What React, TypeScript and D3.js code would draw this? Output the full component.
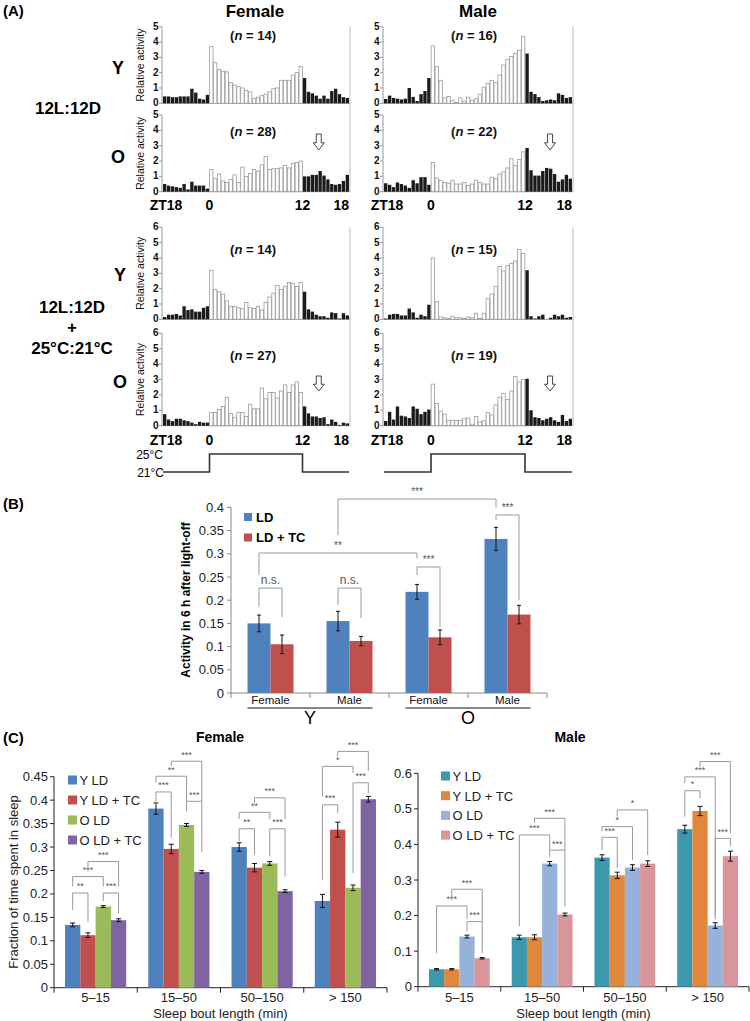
import React from "react";
import * as d3 from "d3";

const FONT = '"Liberation Sans", Arial, Helvetica, sans-serif';

// ---------- Panel A: relative activity, 48 half-hour bins from ZT18 to ZT18 ----------
const femaleY_LD = [0.45,0.45,0.4,0.4,0.45,0.45,0.45,0.95,0.7,0.3,0.25,0.55,
  3.7,2.65,2.2,2.1,2.05,1.35,1.2,1.1,1.0,0.85,0.75,0.3,0.4,0.5,0.6,0.75,0.95,1.0,1.5,1.5,1.5,1.85,2.0,2.4,
  1.65,0.75,0.65,0.5,0.3,0.5,0.3,0.8,0.95,0.6,0.4,0.35];
const femaleO_LD = [0.5,0.4,0.35,0.3,0.25,0.5,0.15,0.65,0.4,0.4,0.4,0.2,
  1.45,0.85,1.15,0.7,0.6,0.8,1.1,0.6,1.6,1.0,1.2,1.45,1.35,1.75,2.3,1.45,1.5,1.5,1.55,1.7,1.55,1.85,1.9,2.0,
  1.0,1.0,1.1,1.1,1.35,1.05,0.8,0.5,0.45,0.5,0.7,1.1];
const maleY_LD = [0.28,0.5,0.35,0.3,0.25,0.3,1.0,0.42,0.15,0.6,0.8,1.65,
  3.75,2.4,1.5,0.35,0.45,0.2,0.05,0.35,0.15,0.4,0.2,0.3,0.6,1.05,1.3,1.5,1.35,1.85,2.5,2.85,3.05,3.25,3.45,4.35,
  3.25,0.75,0.6,0.4,0.15,0.2,0.25,0.2,0.65,0.55,0.35,0.4];
const maleO_LD = [0.55,0.45,0.3,0.6,0.5,0.4,0.25,0.75,0.55,0.95,0.95,0.45,
  1.9,0.9,0.75,0.6,0.55,0.75,0.5,0.5,0.6,0.4,0.5,0.75,0.6,0.5,0.5,0.95,0.85,1.15,1.3,1.55,2.15,1.7,2.1,2.6,
  2.85,1.4,1.05,1.05,1.35,1.55,1.5,1.15,0.65,0.8,1.1,0.85];
const femaleY_TC = [0.15,0.3,0.3,0.35,0.25,0.85,0.6,0.65,0.5,0.5,0.75,0.85,
  3.2,1.95,1.8,1.65,1.2,0.85,0.85,0.75,0.7,1.1,0.75,0.7,0.85,0.6,1.1,1.45,1.7,2.2,1.95,2.15,2.4,2.35,2.15,2.4,
  1.8,0.65,0.5,0.3,0.2,0.2,0.1,0.45,0.4,0.05,0.4,0.25];
const femaleO_TC = [0.75,0.4,0.3,0.45,0.45,0.35,0.3,0.2,0.1,0.25,0.2,0.2,
  0.85,0.85,1.05,1.25,1.85,0.8,0.55,0.85,0.85,0.6,1.4,1.1,1.1,2.45,1.75,2.15,2.15,1.8,2.25,2.65,2.15,2.65,2.85,2.15,
  1.25,0.8,0.6,0.6,0.5,0.55,0.1,0.4,0.25,0.05,0.2,0.15];
const maleY_TC = [0.05,0.3,0.35,0.35,0.25,0.25,0.7,0.45,0.1,0.3,0.2,0.95,
  4.0,1.15,0.15,0.1,0.05,0.2,0.1,0.1,0.05,0.15,0.1,0.4,0.05,0.4,1.35,1.65,2.15,3.45,3.15,3.5,3.65,3.8,4.55,4.3,
  3.2,0.2,0.05,0.2,0.3,0.0,0.1,0.3,0.2,0.3,0.1,0.15];
const maleO_TC = [0.3,0.9,0.4,1.25,0.65,0.6,0.5,1.25,1.1,0.75,0.9,1.05,
  2.7,1.45,0.95,0.75,0.35,0.35,0.35,0.35,0.45,0.5,0.1,0.6,0.25,0.35,0.85,0.7,1.35,1.85,2.1,1.7,2.25,3.2,2.85,3.0,
  3.05,1.0,0.55,0.5,0.35,0.45,0.55,0.35,0.25,0.7,0.3,0.45];

const nFemale = [14, 28, 14, 27];
const nMale = [16, 22, 15, 19];
const ztTicks = ["ZT18", "0", "12", "18"];
const tempZT = [-6, 0, 0, 12, 12, 18];
const tempC = [21, 21, 25, 25, 21, 21];
const arrowZTFemale = 14.1;
const arrowZTMale = 15.2;

// ---------- Panel B ----------
const bSex = ["Female", "Male", "Female", "Male"];
const bAge = ["Y", "O"];
const bLD = [0.150, 0.155, 0.218, 0.332];
const bLDerr = [0.018, 0.021, 0.016, 0.025];
const bTC = [0.105, 0.112, 0.120, 0.169];
const bTCerr = [0.020, 0.010, 0.016, 0.020];
// [catA, seriesA, catB, seriesB, level, endA, endB, label]
const bSig: [number, number, number, number, number, number, number, string][] = [
  [0, 0, 0, 1, 0.226, 0.185, 0.164, "n.s."],
  [1, 0, 1, 1, 0.226, 0.19, 0.162, "n.s."],
  [2, 0, 2, 1, 0.2716, 0.254, 0.142, "***"],
  [3, 0, 3, 1, 0.3836, 0.373, 0.2, "***"],
  [0, 0, 2, 0, 0.3017, 0.254, 0.29, "**"],
  [1, 0, 3, 0, 0.418, 0.34, 0.40, "***"],
];

// ---------- Panel C ----------
const cCategories = ["5\u201315", "15\u201350", "50\u2013150", "> 150"];
const cSeries = ["Y LD", "Y LD + TC", "O LD", "O LD + TC"];
const femaleC_YLD = [0.134, 0.382, 0.300, 0.185];
const femaleC_YTC = [0.112, 0.296, 0.256, 0.337];
const femaleC_OLD = [0.173, 0.347, 0.265, 0.213];
const femaleC_OTC = [0.144, 0.247, 0.206, 0.402];
const femaleC_YLDerr = [0.004, 0.012, 0.009, 0.014];
const femaleC_YTCerr = [0.005, 0.010, 0.009, 0.016];
const femaleC_OLDerr = [0.002, 0.003, 0.004, 0.006];
const femaleC_OTCerr = [0.003, 0.003, 0.003, 0.006];
const maleC_YLD = [0.049, 0.139, 0.363, 0.443];
const maleC_YTC = [0.049, 0.139, 0.313, 0.494];
const maleC_OLD = [0.141, 0.346, 0.335, 0.172];
const maleC_OTC = [0.080, 0.203, 0.346, 0.367];
const maleC_YLDerr = [0.002, 0.006, 0.008, 0.011];
const maleC_YTCerr = [0.002, 0.007, 0.009, 0.013];
const maleC_OLDerr = [0.004, 0.006, 0.008, 0.008];
const maleC_OTCerr = [0.002, 0.004, 0.008, 0.014];
// [category, barA, barB, level, endA, endB, label]
type Sig = [number, number, number, number, number, number, string];
const femaleSig: Sig[] = [
  [0, 0, 1, 0.202, 0.166, 0.141, "**"],
  [0, 0, 2, 0.237, 0.216, 0.216, "***"],
  [0, 1, 3, 0.269, 0.248, 0.216, "***"],
  [0, 2, 3, 0.202, 0.185, 0.159, "***"],
  [1, 0, 1, 0.4175, 0.390, 0.32, "***"],
  [1, 0, 2, 0.451, 0.437, 0.398, "**"],
  [1, 1, 3, 0.483, 0.472, 0.398, "***"],
  [1, 2, 3, 0.3976, 0.376, 0.29, "***"],
  [2, 0, 1, 0.339, 0.312, 0.284, "**"],
  [2, 0, 2, 0.374, 0.36, 0.359, "**"],
  [2, 1, 3, 0.405, 0.394, 0.359, "***"],
  [2, 2, 3, 0.339, 0.280, 0.237, "***"],
  [3, 0, 1, 0.390, 0.230, 0.372, "***"],
  [3, 0, 2, 0.472, 0.408, 0.458, "*"],
  [3, 1, 3, 0.504, 0.494, 0.462, "***"],
  [3, 2, 3, 0.437, 0.244, 0.415, "***"],
];
const maleSig: Sig[] = [
  [0, 0, 2, 0.227, 0.094, 0.19, "***"],
  [0, 1, 3, 0.274, 0.244, 0.183, "***"],
  [0, 2, 3, 0.183, 0.156, 0.094, "***"],
  [1, 0, 2, 0.4266, 0.17, 0.384, "***"],
  [1, 1, 3, 0.4735, 0.46, 0.384, "***"],
  [1, 2, 3, 0.384, 0.365, 0.225, "***"],
  [2, 0, 1, 0.42, 0.384, 0.333, "***"],
  [2, 0, 2, 0.45, 0.436, 0.356, "*"],
  [2, 1, 3, 0.497, 0.478, 0.37, "*"],
  [3, 0, 1, 0.551, 0.478, 0.53, "*"],
  [3, 0, 2, 0.59, 0.572, 0.20, "***"],
  [3, 1, 3, 0.633, 0.619, 0.431, "***"],
  [3, 2, 3, 0.417, 0.19, 0.395, "***"],
];

// ================= components =================
const A_X = { female: [163, 349], male: [384, 572] };
const A_ROWS = [
  { bottom: 103.3, top: 26.7, max: 5, nY: 40 },
  { bottom: 191.7, top: 115, max: 5, nY: 136 },
  { bottom: 319.3, top: 227.3, max: 6, nY: 254 },
  { bottom: 425.7, top: 333.3, max: 6, nY: 360 },
];

function ActivityPanel({ values, left, right, row, yLabel, n }: any) {
  const r = A_ROWS[row];
  const x = d3.scaleBand<number>().domain(d3.range(values.length)).range([left, right]).paddingInner(0.14);
  const y = d3.scaleLinear().domain([0, r.max]).range([r.bottom, r.top]);
  const ticks = d3.range(0, r.max + 1);
  return (
    <g>
      <line x1={left - 1} x2={left - 1} y1={r.bottom} y2={r.top} stroke="#999" />
      {ticks.map((t) => (
        <g key={t}>
          <line x1={left - 4} x2={left - 1} y1={y(t)} y2={y(t)} stroke="#999" />
          <text x={left - 4.5} y={y(t) + 3} textAnchor="end" fontSize={10} fontWeight="bold" fill="#111">{t}</text>
        </g>
      ))}
      <line x1={left - 1} x2={right + 1} y1={r.bottom} y2={r.bottom} stroke="#999" />
      {values.map((v: number, i: number) => {
        const light = i >= 12 && i < 36;
        return (
          <rect key={i} x={x(i)} y={y(v)} width={x.bandwidth()} height={Math.max(0, r.bottom - y(v))}
            fill={light ? "#fff" : "#1b1b1b"} stroke={light ? "#9a9a9a" : "none"} strokeWidth={0.8} />
        );
      })}
      {yLabel && (
        <text transform={`translate(${left - 19},${(r.bottom + r.top) / 2}) rotate(-90)`} textAnchor="middle" fontSize={10.5} fill="#111">
          Relative activity
        </text>
      )}
      <text x={left + 90} y={r.nY} textAnchor="middle" fontSize={13} fontWeight="bold" fill="#111">
        (<tspan fontStyle="italic">n</tspan> = {n})
      </text>
    </g>
  );
}

function Arrow({ x, y1, y2 }: any) {
  const hy = y1 + (y2 - y1) * 0.55;
  const d = `M${x - 2.5},${y1} L${x + 2.5},${y1} L${x + 2.5},${hy} L${x + 5.5},${hy} L${x},${y2} L${x - 5.5},${hy} L${x - 2.5},${hy} Z`;
  return <path d={d} fill="#fff" stroke="#444" strokeWidth={1} />;
}

function PanelA() {
  const sets = [
    { sex: "female", data: [femaleY_LD, femaleO_LD, femaleY_TC, femaleO_TC], n: nFemale },
    { sex: "male", data: [maleY_LD, maleO_LD, maleY_TC, maleO_TC], n: nMale },
  ];
  const tempY = d3.scaleLinear().domain([21, 25]).range([472, 454]);
  return (
    <g>
      <text x={3} y={16} fontSize={15} fontWeight="bold">(A)</text>
      <text x={255} y={17} textAnchor="middle" fontSize={17} fontWeight="bold">Female</text>
      <text x={478} y={17} textAnchor="middle" fontSize={17} fontWeight="bold">Male</text>
      <text x={118} y={74} textAnchor="middle" fontSize={18} fontWeight="bold">Y</text>
      <text x={118} y={163} textAnchor="middle" fontSize={18} fontWeight="bold">O</text>
      <text x={68} y={114} textAnchor="middle" fontSize={17} fontWeight="bold">12L:12D</text>
      <text x={120} y={281} textAnchor="middle" fontSize={18} fontWeight="bold">Y</text>
      <text x={120} y={388} textAnchor="middle" fontSize={18} fontWeight="bold">O</text>
      <text x={72} y={313} textAnchor="middle" fontSize={17} fontWeight="bold">12L:12D</text>
      <text x={72} y={333} textAnchor="middle" fontSize={17} fontWeight="bold">+</text>
      <text x={72} y={354} textAnchor="middle" fontSize={17} fontWeight="bold">25°C:21°C</text>
      {sets.map((s) => {
        const [l, rr] = (A_X as any)[s.sex];
        const zt = d3.scaleLinear().domain([-6, 18]).range([l, rr]);
        const arrowX = zt(s.sex === "female" ? arrowZTFemale : arrowZTMale);
        const line = d3.line<number>().x((_, i) => zt(tempZT[i])).y((d) => tempY(d));
        return (
          <g key={s.sex}>
            {s.data.map((vals, row) => (
              <ActivityPanel key={row} values={vals} left={l} right={rr} row={row} yLabel={s.sex === "female"} n={s.n[row]} />
            ))}
            <line x1={rr + 1} x2={rr + 1} y1={26.7} y2={191.7} stroke="#bbb" />
            <line x1={rr + 1} x2={rr + 1} y1={227.3} y2={425.7} stroke="#bbb" />
            {[209.5, 444.5].map((by) => (
              <g key={by} fontSize={14} fontWeight="bold">
                <text x={zt(-6) + 3} y={by} textAnchor="middle">{ztTicks[0]}</text>
                <text x={zt(0)} y={by} textAnchor="middle">{ztTicks[1]}</text>
                <text x={zt(12)} y={by} textAnchor="middle">{ztTicks[2]}</text>
                <text x={rr} y={by} textAnchor="end">{ztTicks[3]}</text>
              </g>
            ))}
            <Arrow x={arrowX} y1={134} y2={150} />
            <Arrow x={arrowX} y1={376} y2={391} />
            <path d={line(tempC) || ""} fill="none" stroke="#333" strokeWidth={1.6} />
          </g>
        );
      })}
      <text x={163} y={459} textAnchor="end" fontSize={12}>25°C</text>
      <text x={164} y={476.5} textAnchor="end" fontSize={12}>21°C</text>
    </g>
  );
}

function PanelB() {
  const left = 231, right = 547, bottom = 693, top = 507.4;
  const x = d3.scaleBand<number>().domain(d3.range(4)).range([left, right]);
  const y = d3.scaleLinear().domain([0, 0.4]).range([bottom, top]);
  const bw = 23;
  const cx = (c: number, s: number) => (x(c) as number) + x.bandwidth() / 2 + (s === 0 ? -bw / 2 : bw / 2);
  const series = [
    { v: bLD, e: bLDerr, color: "#4F81BD", name: "LD" },
    { v: bTC, e: bTCerr, color: "#C0504D", name: "LD + TC" },
  ];
  const ticks = d3.range(0, 0.4001, 0.05);
  return (
    <g>
      <text x={3} y={509} fontSize={15} fontWeight="bold">(B)</text>
      <line x1={left} x2={left} y1={bottom} y2={top} stroke="#888" />
      {ticks.map((t) => (
        <g key={t}>
          <line x1={left - 4} x2={left} y1={y(t)} y2={y(t)} stroke="#888" />
          <text x={left - 7} y={y(t) + 4.5} textAnchor="end" fontSize={13} fill="#222">{String(+t.toFixed(2))}</text>
        </g>
      ))}
      <line x1={left} x2={right} y1={bottom} y2={bottom} stroke="#888" />
      {d3.range(5).map((i) => {
        const xx = left + i * x.step();
        return <line key={i} x1={xx} x2={xx} y1={bottom} y2={bottom + 5} stroke="#888" />;
      })}
      {series.map((s, si) =>
        s.v.map((v, c) => {
          const c0 = cx(c, si);
          return (
            <g key={`${si}-${c}`}>
              <rect x={c0 - bw / 2} y={y(v)} width={bw} height={bottom - y(v)} fill={s.color} />
              <line x1={c0} x2={c0} y1={y(v - s.e[c])} y2={y(v + s.e[c])} stroke="#111" />
              <line x1={c0 - 2} x2={c0 + 2} y1={y(v - s.e[c])} y2={y(v - s.e[c])} stroke="#111" />
              <line x1={c0 - 2} x2={c0 + 2} y1={y(v + s.e[c])} y2={y(v + s.e[c])} stroke="#111" />
            </g>
          );
        })
      )}
      {bSex.map((s, c) => (
        <text key={c} x={(x(c) as number) + x.bandwidth() / 2} y={704} textAnchor="middle" fontSize={11.5} fill="#111">{s}</text>
      ))}
      {bAge.map((a, g) => {
        const x1 = cx(2 * g, 0) - bw / 2, x2 = cx(2 * g + 1, 1) + bw / 2;
        return (
          <g key={a}>
            <line x1={x1} x2={x2} y1={708} y2={708} stroke="#111" strokeWidth={1.2} />
            <text x={(x1 + x2) / 2} y={724} textAnchor="middle" fontSize={18}>{a}</text>
          </g>
        );
      })}
      {bSig.map((s, i) => {
        const xa = cx(s[0], s[1]), xb = cx(s[2], s[3]);
        const ly = y(s[4]);
        return (
          <g key={i}>
            <path d={`M${xa},${y(s[5])} L${xa},${ly} L${xb},${ly} L${xb},${y(s[6])}`} fill="none" stroke="#999" />
            <text x={(xa + xb) / 2} y={ly - 4} textAnchor="middle" fontSize={s[7] === "n.s." ? 12 : 10} fill="#555">{s[7]}</text>
          </g>
        );
      })}
      {series.map((s, i) => (
        <g key={s.name}>
          <rect x={244} y={513 + i * 20.5} width={8} height={8} fill={s.color} />
          <text x={256} y={521.5 + i * 20.5} fontSize={13} fontWeight="bold">{s.name}</text>
        </g>
      ))}
      <text transform={`translate(190,600) rotate(-90)`} textAnchor="middle" fontSize={12} fontWeight="bold">
        Activity in 6 h  after light-off
      </text>
    </g>
  );
}

function SleepPanel({ left, right, bottom, top, max, step, values, errs, colors, sig, legendX, legendY, legendStep, title, titleX, yLabel }: any) {
  const x = d3.scaleBand<number>().domain(d3.range(cCategories.length)).range([left, right]);
  const y = d3.scaleLinear().domain([0, max]).range([bottom, top]);
  const gw = x.bandwidth() * 0.735;
  const inner = d3.scaleBand<number>().domain(d3.range(4)).range([0, gw]);
  const bx = (c: number, s: number) => (x(c) as number) + (x.bandwidth() - gw) / 2 + (inner(s) as number);
  const bc = (c: number, s: number) => bx(c, s) + inner.bandwidth() / 2;
  const ticks = d3.range(0, max + step / 2, step);
  return (
    <g>
      <text x={titleX} y={742} textAnchor="middle" fontSize={14} fontWeight="bold">{title}</text>
      <line x1={left} x2={left} y1={bottom} y2={top} stroke="#222" />
      {ticks.map((t: number) => (
        <g key={t}>
          <line x1={left - 4} x2={left} y1={y(t)} y2={y(t)} stroke="#222" />
          <text x={left - 6} y={y(t) + 4.5} textAnchor="end" fontSize={13} fill="#222">{String(+t.toFixed(2))}</text>
        </g>
      ))}
      <line x1={left} x2={right} y1={bottom} y2={bottom} stroke="#222" />
      {d3.range(5).map((i) => {
        const xx = left + i * x.step();
        return <line key={i} x1={xx} x2={xx} y1={bottom} y2={bottom + 5} stroke="#222" />;
      })}
      {cCategories.map((c, i) => (
        <text key={c} x={(x(i) as number) + x.bandwidth() / 2} y={1002} textAnchor="middle" fontSize={13} fill="#222">{c}</text>
      ))}
      <text x={(left + right) / 2} y={1017.5} textAnchor="middle" fontSize={13} fill="#222">Sleep bout length (min)</text>
      {values.map((ser: number[], si: number) =>
        ser.map((v, c) => {
          const x0 = bx(c, si), xc = bc(c, si), e = errs[si][c];
          return (
            <g key={`${si}-${c}`}>
              <rect x={x0} y={y(v)} width={inner.bandwidth()} height={bottom - y(v)} fill={colors[si]} />
              <line x1={xc} x2={xc} y1={y(v - e)} y2={y(v + e)} stroke="#111" />
              <line x1={xc - 2.5} x2={xc + 2.5} y1={y(v - e)} y2={y(v - e)} stroke="#111" />
              <line x1={xc - 2.5} x2={xc + 2.5} y1={y(v + e)} y2={y(v + e)} stroke="#111" />
            </g>
          );
        })
      )}
      {sig.map((s: Sig, i: number) => {
        const xa = bc(s[0], s[1]), xb = bc(s[0], s[2]), ly = y(s[3]);
        return (
          <g key={i}>
            <path d={`M${xa},${y(s[4])} L${xa},${ly} L${xb},${ly} L${xb},${y(s[5])}`} fill="none" stroke="#999" />
            <text x={(xa + xb) / 2} y={ly - 3.5} textAnchor="middle" fontSize={9} fill="#555">{s[6]}</text>
          </g>
        );
      })}
      {cSeries.map((name, i) => (
        <g key={name}>
          <rect x={legendX} y={legendY + i * legendStep - 4.5} width={9} height={9} fill={colors[i]} />
          <text x={legendX + 11.5} y={legendY + i * legendStep + 5} fontSize={13} fill="#222">{name}</text>
        </g>
      ))}
      {yLabel && (
        <text transform={`translate(18,882) rotate(-90)`} textAnchor="middle" fontSize={13} fill="#222">
          Fraction of time spent in sleep
        </text>
      )}
    </g>
  );
}

export default function App() {
  return (
    <svg width={750} height={1021} style={{ position: "absolute", left: 0, top: 0 }} fontFamily={FONT}>
      <rect width={750} height={1021} fill="#fff" />
      <PanelA />
      <PanelB />
      <text x={3} y={743} fontSize={15} fontWeight="bold">(C)</text>
      <SleepPanel
        left={54} right={387} bottom={987.7} top={776.7} max={0.45} step={0.05}
        values={[femaleC_YLD, femaleC_YTC, femaleC_OLD, femaleC_OTC]}
        errs={[femaleC_YLDerr, femaleC_YTCerr, femaleC_OLDerr, femaleC_OTCerr]}
        colors={["#4F81BD", "#C0504D", "#9BBB59", "#8064A2"]}
        sig={femaleSig} legendX={68} legendY={780} legendStep={20}
        title="Female" titleX={220} yLabel
      />
      <SleepPanel
        left={418} right={749} bottom={986.7} top={773.3} max={0.6} step={0.1}
        values={[maleC_YLD, maleC_YTC, maleC_OLD, maleC_OTC]}
        errs={[maleC_YLDerr, maleC_YTCerr, maleC_OLDerr, maleC_OTCerr]}
        colors={["#3B98AF", "#E0873C", "#96B2DA", "#D8969A"]}
        sig={maleSig} legendX={441} legendY={776} legendStep={19.7}
        title="Male" titleX={570}
      />
    </svg>
  );
}
